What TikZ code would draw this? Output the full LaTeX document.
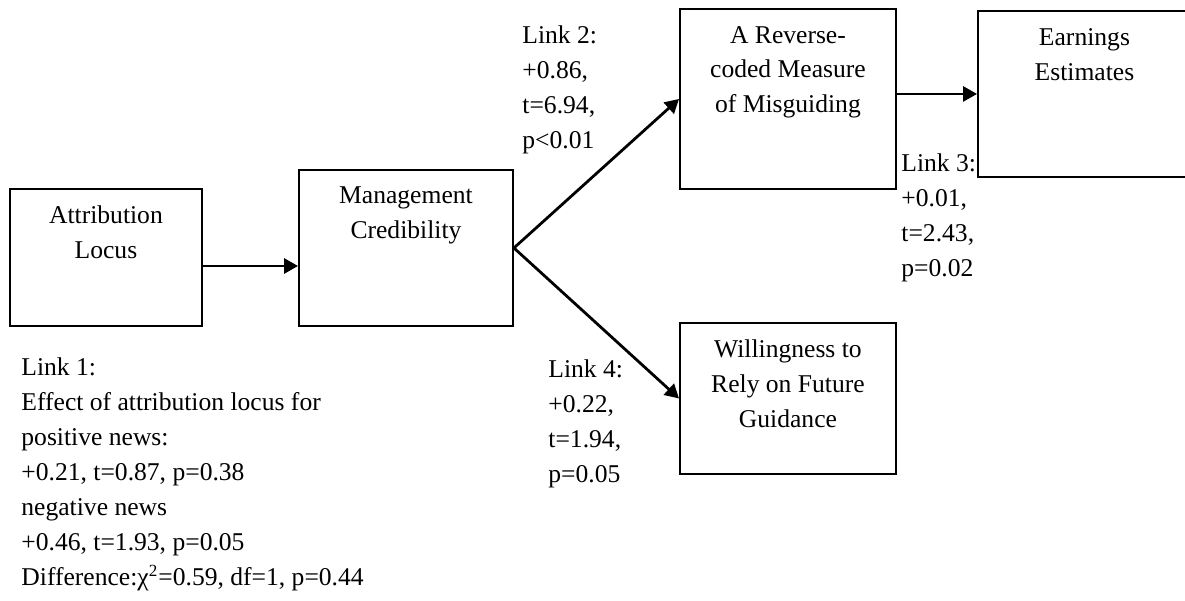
\documentclass[tikz,border=0pt]{standalone}
\usepackage{fontspec}
\setmainfont{Liberation Serif}
\usepackage{tikz}
\usetikzlibrary{arrows.meta, positioning}

\newcommand{\pxlen}{0.469pt}

\begin{document}
\begin{tikzpicture}[
  x=0.469pt, y=0.469pt,
  font=\fontsize{12pt}{16.4pt}\selectfont,
  box/.style={rectangle, draw, line width=0.9pt, inner sep=0pt, anchor=north west},
  boxtext/.style={anchor=north, yshift=-8.3pt, inner sep=0pt, align=center},
  linktext/.style={anchor=north west, inner sep=0pt, align=left},
  arrow/.style={-{Triangle[length=6.5pt, width=7pt]}, line width=1.3pt}
]
\clip (0,0) rectangle (1185,600);
% boxes
\node[box, minimum width=192*\pxlen, minimum height=137*\pxlen,
      label={[boxtext]north:Attribution\\Locus}] (attr) at (9,412) {};
\node[box, minimum width=214*\pxlen, minimum height=156*\pxlen,
      label={[boxtext]north:Management\\Credibility}] (cred) at (298,431) {};
\node[box, minimum width=216*\pxlen, minimum height=180*\pxlen,
      label={[boxtext]north:A Reverse-\\coded Measure\\of Misguiding}] (misg) at (679,592) {};
\node[box, minimum width=213*\pxlen, minimum height=166*\pxlen,
      label={[boxtext]north:Earnings\\Estimates}] (earn) at (977,590) {};
\node[box, minimum width=216*\pxlen, minimum height=151*\pxlen,
      label={[boxtext]north:Willingness to\\Rely on Future\\Guidance}] (rely) at (679,278) {};
% link statistics
\node[linktext] (link1) at (21,242.5) {Link 1:\\Effect of attribution locus for\\positive news:\\+0.21, t=0.87, p=0.38\\negative news\\+0.46, t=1.93, p=0.05\\Difference:χ\textsuperscript{2}=0.59, df=1, p=0.44};
\node[linktext] (link2) at (522,574.5) {Link 2:\\+0.86,\\t=6.94,\\p<0.01};
\node[linktext] (link3) at (901,446.5) {Link 3:\\+0.01,\\t=2.43,\\p=0.02};
\node[linktext] (link4) at (548,240.5) {Link 4:\\+0.22,\\t=1.94,\\p=0.05};
% arrows
\coordinate (a1) at ([yshift=-4pt]attr.east);
\draw[arrow] (a1) -- (a1 -| cred.west);
\draw[arrow] (cred.east) -- (misg.west);
\draw[arrow] (cred.east) -- (rely.west);
\draw[arrow] (misg.east |- earn.west) -- (earn.west);
\end{tikzpicture}
\end{document}
